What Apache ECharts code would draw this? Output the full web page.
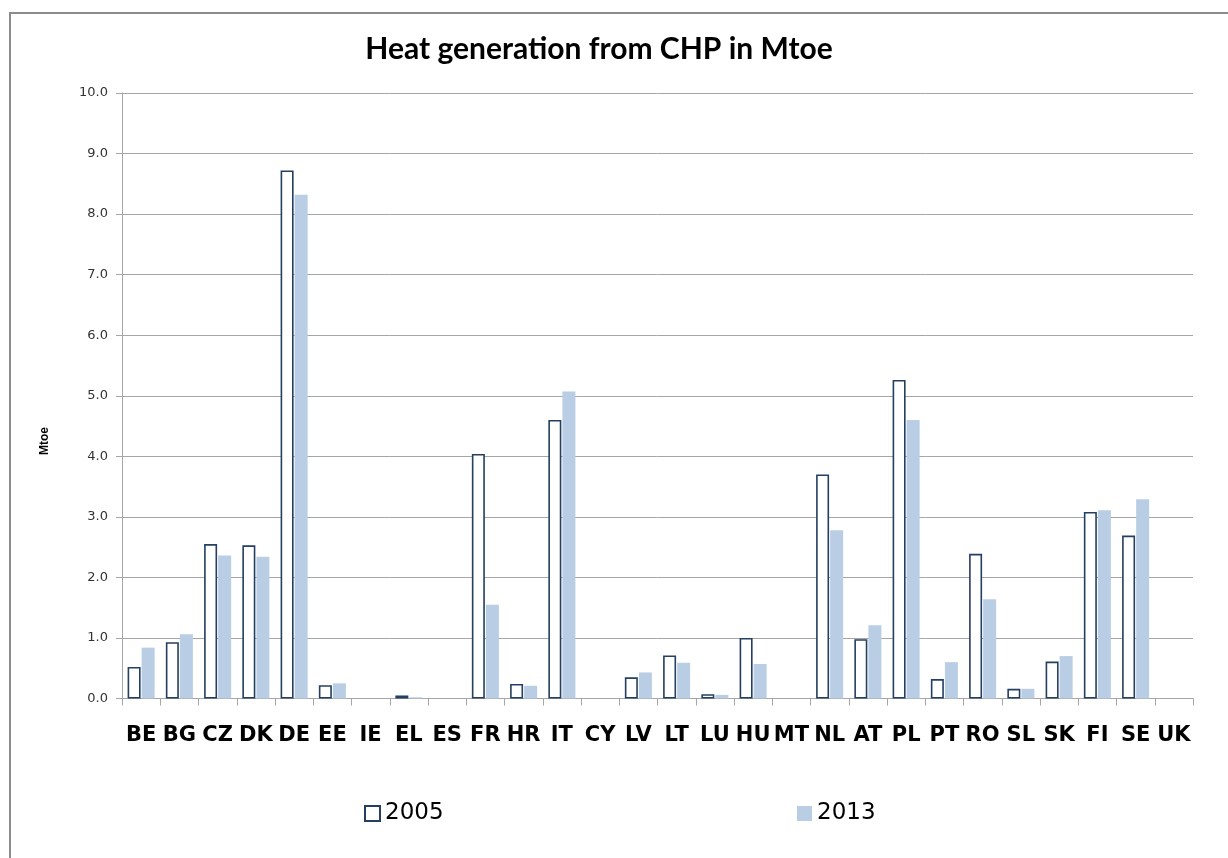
<!DOCTYPE html>
<html>
<head>
<meta charset="utf-8">
<script src="https://cdn.jsdelivr.net/npm/echarts@6/dist/echarts.min.js"></script>
<style>
html,body{margin:0;padding:0;background:#fff;}
#chart{width:1228px;height:858px;}
</style>
</head>
<body>
<div id="chart"></div>
<script>
const categories = ['BE','BG','CZ','DK','DE','EE','IE','EL','ES','FR','HR','IT','CY','LV','LT','LU','HU','MT','NL','AT','PL','PT','RO','SL','SK','FI','SE','UK'];
const values2005 = [0.52,0.93,2.55,2.53,8.72,0.22,0,0.05,0,4.04,0.24,4.60,0,0.35,0.71,0.07,1.00,0,3.70,0.98,5.26,0.32,2.39,0.16,0.61,3.08,2.69,0];
const values2013 = [0.84,1.06,2.36,2.34,8.32,0.25,0,0.02,0,1.55,0.21,5.07,0,0.43,0.59,0.06,0.57,0,2.78,1.21,4.60,0.60,1.64,0.16,0.70,3.11,3.29,0];
const yTicks = [0,1,2,3,4,5,6,7,8,9,10];

// zero values are not drawn as bars (no visible outline in the original)
const toBars = arr => arr.map(v => v === 0 ? '-' : v);

const chart = echarts.init(document.getElementById('chart'), null, {renderer:'canvas'});
chart.setOption({
  animation:false,
  backgroundColor:'#ffffff',
  title:{
    text:'Heat generation from CHP in Mtoe',
    left:594, top:29, textAlign:'center',
    textStyle:{fontFamily:'Lato',fontWeight:'bold',fontSize:30,color:'#000'}
  },
  graphic:[{
    type:'rect', shape:{x:10,y:13,width:1300,height:900},
    style:{fill:'none',stroke:'#8c8c8c',lineWidth:2}, silent:true
  },{
    type:'text', x:45, y:441, rotation:Math.PI/2, silent:true,
    style:{text:'Mtoe', fill:'#000', font:'bold 12px "Liberation Sans"', align:'center', verticalAlign:'middle'}
  }],
  legend:[{
    data:['2005'], left:359, top:797, itemWidth:15, itemHeight:15, itemGap:6, icon:'rect',
    textStyle:{fontFamily:'DejaVu Sans',fontSize:23,color:'#000'}
  },{
    data:['2013'], left:792, top:797, itemWidth:15, itemHeight:15, itemGap:6, icon:'rect',
    textStyle:{fontFamily:'DejaVu Sans',fontSize:23,color:'#000'}
  }],
  grid:{left:122,right:35,top:93,bottom:159.5,containLabel:false},
  xAxis:{
    type:'category', data:categories,
    axisLine:{lineStyle:{color:'#a6a6a6',width:1}},
    axisTick:{show:true,length:7,interval:0,lineStyle:{color:'#a6a6a6'}},
    axisLabel:{interval:0,margin:27,fontFamily:'DejaVu Sans',fontWeight:'bold',fontSize:21,color:'#000'}
  },
  yAxis:{
    type:'value', min:yTicks[0], max:yTicks[yTicks.length-1], interval:1,
    axisLine:{show:true,lineStyle:{color:'#a6a6a6'}},
    axisTick:{show:true,length:6,lineStyle:{color:'#a6a6a6'}},
    axisLabel:{formatter:v=>v.toFixed(1),fontFamily:'DejaVu Sans',fontSize:13,color:'#333',margin:14},
    splitLine:{show:true,lineStyle:{color:'#a6a6a6',width:1}}
  },
  series:[{
    name:'2005', type:'bar', data:toBars(values2005), barWidth:13, barGap:'8%',
    itemStyle:{color:'#ffffff',borderColor:'#243F60',borderWidth:1.6}
  },{
    name:'2013', type:'bar', data:toBars(values2013), barWidth:13,
    itemStyle:{color:'#B9CDE5'}
  }]
});
</script>
</body>
</html>
